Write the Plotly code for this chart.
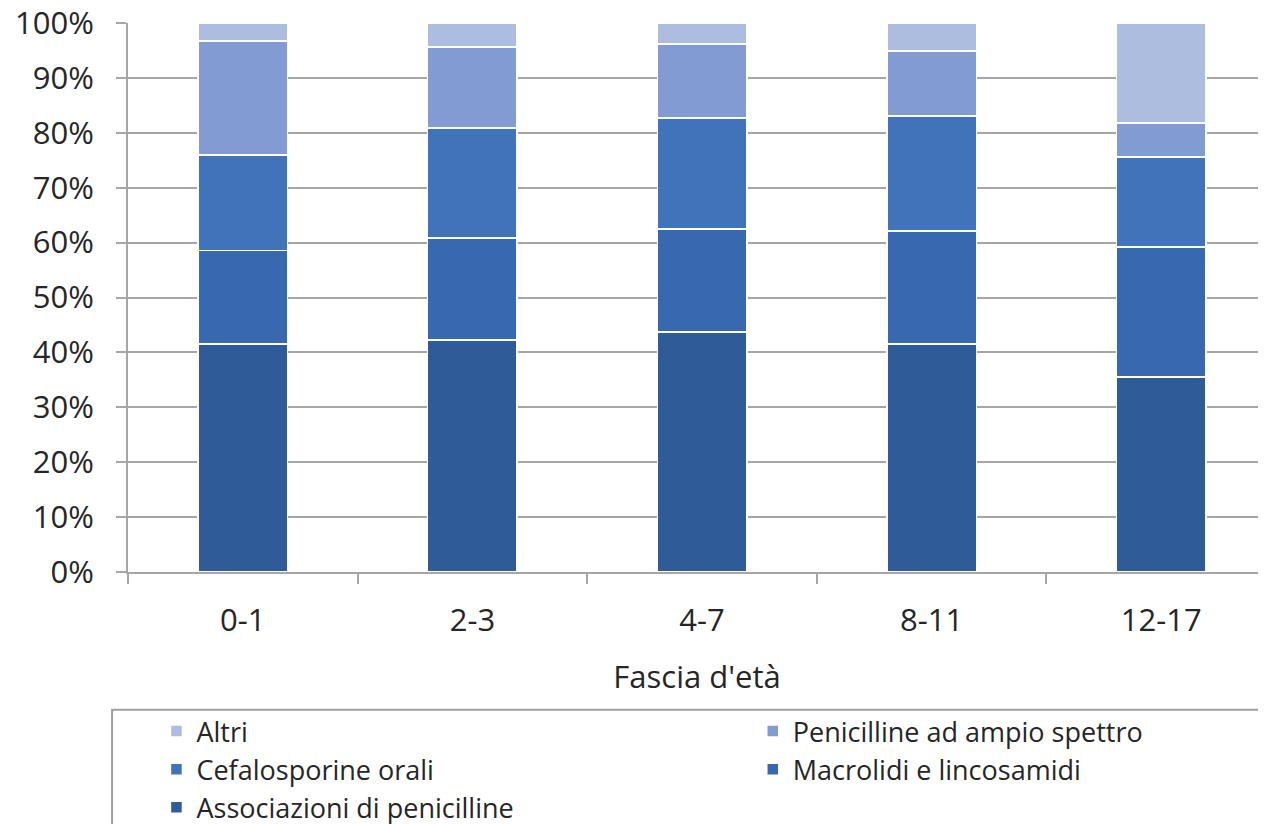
import plotly.graph_objects as go

# Age bands (x categories)
age_bands = ["0-1", "2-3", "4-7", "8-11", "12-17"]

# Share (%) of each antibiotic class per age band, bottom to top of the stack
associazioni_penicilline = [41.5, 42.3, 43.7, 41.5, 35.5]
macrolidi_lincosamidi = [17.1, 18.5, 18.8, 20.6, 23.7]
cefalosporine_orali = [17.4, 20.1, 20.2, 21.0, 16.4]
penicilline_ampio_spettro = [20.7, 14.7, 13.5, 11.8, 6.2]
altri = [3.3, 4.4, 3.8, 5.1, 18.2]

y_ticks = [0, 10, 20, 30, 40, 50, 60, 70, 80, 90, 100]
y_tick_labels = [f"{v}%" for v in y_ticks]

# name, values, colour, legend column, order inside the column
series = [
    ("Associazioni di penicilline", associazioni_penicilline, "#2F5C98", "legend", 3),
    ("Macrolidi e lincosamidi", macrolidi_lincosamidi, "#3869B0", "legend2", 2),
    ("Cefalosporine orali", cefalosporine_orali, "#4073BA", "legend", 2),
    ("Penicilline ad ampio spettro", penicilline_ampio_spettro, "#829BD2", "legend2", 1),
    ("Altri", altri, "#ADBDE0", "legend", 1),
]

fig = go.Figure()
for name, values, color, legend_id, rank in series:
    fig.add_trace(
        go.Bar(
            x=age_bands,
            y=values,
            name=name,
            width=0.39,
            legend=legend_id,
            legendrank=rank,
            marker=dict(color=color, line=dict(color="white", width=1.5)),
        )
    )

text_color = "#262626"
grid_color = "#A6A6A6"
tick_size = 31
legend_size = 27

legend_style = dict(
    orientation="v",
    traceorder="normal",
    xanchor="left",
    y=-0.246,
    yanchor="top",
    bgcolor="rgba(0,0,0,0)",
    font=dict(size=legend_size, color=text_color),
    tracegroupgap=0,
)

# page body has an 8px default margin, so the figure is drawn 8px smaller
fig.update_layout(
    barmode="stack",
    width=1258,
    height=816,
    margin=dict(l=120, r=0, t=15, b=252, autoexpand=False),
    plot_bgcolor="white",
    paper_bgcolor="white",
    font=dict(family="Open Sans, sans-serif", size=tick_size, color=text_color),
    legend=dict(x=0.025, **legend_style),
    legend2=dict(x=0.549, **legend_style),
    shapes=[
        dict(
            type="rect",
            xref="paper",
            yref="paper",
            x0=-0.014,
            x1=1.2,
            y0=-0.251,
            y1=-0.7,
            line=dict(color="#A0A0A0", width=2),
            fillcolor="rgba(0,0,0,0)",
            layer="below",
        )
    ],
)

fig.update_xaxes(
    range=[-0.5, 4.456],
    title=dict(text="Fascia d'età", standoff=27, font=dict(size=tick_size)),
    showline=True,
    linecolor=grid_color,
    linewidth=2,
    ticks="outside",
    tickson="boundaries",
    ticklen=10,
    tickwidth=2,
    tickcolor=grid_color,
    ticklabelstandoff=20,
    showgrid=False,
    tickfont=dict(size=tick_size),
)
fig.update_yaxes(
    range=[0, 100],
    tickvals=y_ticks,
    ticktext=y_tick_labels,
    showline=True,
    linecolor=grid_color,
    linewidth=2,
    ticks="outside",
    ticklen=10,
    tickwidth=2,
    tickcolor=grid_color,
    ticklabelstandoff=16,
    ticklabeloverflow="allow",
    showgrid=True,
    gridcolor=grid_color,
    gridwidth=2,
    zeroline=False,
    tickfont=dict(size=tick_size),
)

fig.write_html("out.html")
